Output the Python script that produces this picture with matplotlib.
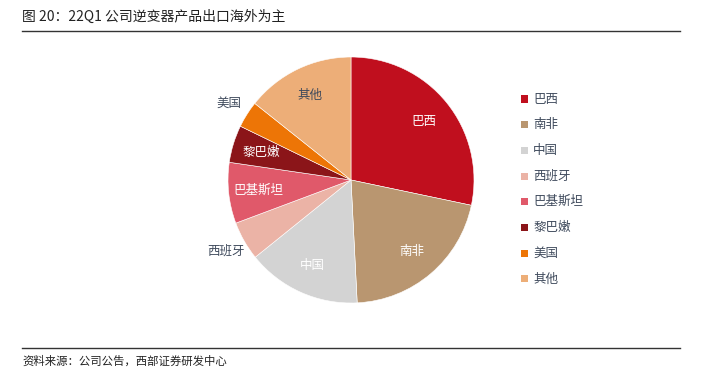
import matplotlib.pyplot as plt
import numpy as np
from matplotlib.patches import Rectangle
from matplotlib.lines import Line2D

plt.rcParams['font.family'] = ['Noto Sans CJK SC', 'DejaVu Sans']

title = '图 20：22Q1 公司逆变器产品出口海外为主'
source = '资料来源：公司公告，西部证券研发中心'
countries = ['巴西', '南非', '中国', '西班牙', '巴基斯坦', '黎巴嫩', '美国', '其他']
shares = [28.3, 20.9, 15.0, 5.1, 8.0, 4.9, 3.5, 14.3]
colors = ['#C00F1E', '#B99670', '#D3D3D3', '#EBB3A6', '#E0596A', '#8B1519', '#ED7506', '#EDAE78']
# label inside (white) or outside (dark)
inside = [True, True, True, False, True, True, False, True]
label_colors = ['white', 'white', 'white', '#3F4A5C', 'white', 'white', '#3F4A5C', '#3F4A5C']

W, H = 708, 379
fig = plt.figure(figsize=(W / 100, H / 100), dpi=100)

# pie axes: center (351,180), radius 123 px
cx, cy, r = 351, 180, 123
ax = fig.add_axes([(cx - r) / W, (H - cy - r) / H, 2 * r / W, 2 * r / H])
wedges, _ = ax.pie(shares, colors=colors, startangle=90, counterclock=False,
                   wedgeprops=dict(edgecolor='white', linewidth=0.4))
ax.set_xlim(-1, 1)
ax.set_ylim(-1, 1)
ax.set_aspect('equal')
ax.axis('off')

for w, name, ins, lc in zip(wedges, countries, inside, label_colors):
    mid = np.deg2rad((w.theta1 + w.theta2) / 2)
    d = 0.76 if ins else 1.17
    ax.text(d * np.cos(mid), d * np.sin(mid), name, ha='center', va='center',
            fontsize=9, color=lc)

# legend
for i, (name, c) in enumerate(zip(countries, colors)):
    y = 99 + i * 25.7
    fig.add_artist(Rectangle((521 / W, 1 - (y + 3.5) / H), 7 / W, 7 / H,
                             transform=fig.transFigure, color=c, lw=0))
    fig.text(533 / W, 1 - y / H, name, ha='left', va='center', fontsize=9,
             color='#3F4A5C')

# title, rules and source
fig.text(22 / W, 1 - 17 / H, title, ha='left', va='center', fontsize=10, color='#222222')
fig.add_artist(Line2D([22 / W, 680 / W], [1 - 31 / H, 1 - 31 / H], color='#333333', lw=1))
fig.add_artist(Line2D([22 / W, 680 / W], [1 - 348 / H, 1 - 348 / H], color='#333333', lw=1))
fig.text(22 / W, 1 - 361 / H, source, ha='left', va='center', fontsize=8.2, color='#222222')

fig.savefig('out.png', dpi=100)
